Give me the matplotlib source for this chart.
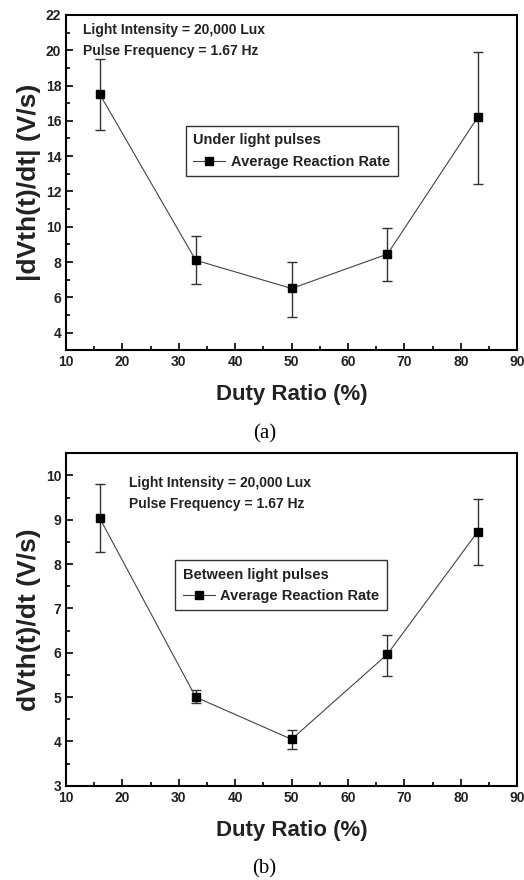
import matplotlib.pyplot as plt
from matplotlib.ticker import MultipleLocator

plt.rcParams['font.family'] = 'Liberation Sans'
plt.rcParams['font.weight'] = 'bold'
plt.rcParams['axes.labelweight'] = 'bold'

duty = [16, 33, 50, 67, 83]

# (a) under light pulses
rate_a = [17.5, 8.1, 6.5, 8.45, 16.2]
err_a_low = [2.0, 1.35, 1.6, 1.5, 3.8]
err_a_high = [2.0, 1.35, 1.5, 1.45, 3.7]

# (b) between light pulses
rate_b = [9.03, 5.0, 4.05, 5.97, 8.73]
err_b_low = [0.76, 0.13, 0.22, 0.49, 0.76]
err_b_high = [0.77, 0.15, 0.22, 0.43, 0.74]

TXT = '#222222'

fig = plt.figure(figsize=(5.24, 8.8), dpi=100)
ax1 = fig.add_axes([0.126, 0.602, 0.861, 0.381])
ax2 = fig.add_axes([0.126, 0.107, 0.861, 0.378])


def panel(ax, y, lo, hi, ylim, major, minor, ylabel, legend_title, anno_xy, leg_anchor, tag):
    ax.errorbar(duty, y, yerr=[lo, hi], fmt='none', ecolor='#333333',
                elinewidth=1.0, capsize=3.5, capthick=1.0, zorder=2)
    ax.plot(duty, y, color='#444444', lw=0.8, marker='s', ms=6,
            mfc='black', mec='black', label='Average Reaction Rate', zorder=3)
    ax.set_xlim(10, 90)
    ax.set_ylim(*ylim)
    ax.xaxis.set_major_locator(MultipleLocator(10))
    ax.xaxis.set_minor_locator(MultipleLocator(5))
    ax.yaxis.set_major_locator(MultipleLocator(major))
    ax.yaxis.set_minor_locator(MultipleLocator(minor))
    ax.tick_params(which='both', direction='in', colors='black', labelcolor=TXT,
                   labelsize=10, width=1.2)
    ax.tick_params(which='major', length=5)
    ax.tick_params(which='minor', length=3)
    for lab in ax.get_xticklabels() + ax.get_yticklabels():
        lab.set_fontweight('bold')
    for s in ax.spines.values():
        s.set_linewidth(1.5)
    ax.set_xlabel('Duty Ratio (%)', fontsize=16, fontweight='bold', color=TXT, labelpad=11)
    ax.set_ylabel(ylabel, fontsize=19, fontweight='bold', color=TXT, labelpad=3)
    ax.text(anno_xy[0], anno_xy[1], 'Light Intensity = 20,000 Lux\nPulse Frequency = 1.67 Hz',
            transform=ax.transAxes, fontsize=10, fontweight='bold', color=TXT, va='top',
            linespacing=1.6)
    leg = ax.legend(title=legend_title, loc='upper left', bbox_to_anchor=leg_anchor,
                    prop={'weight': 'bold', 'size': 10.5},
                    title_fontproperties={'weight': 'bold', 'size': 10.5},
                    alignment='left', frameon=True, fancybox=False, handlelength=2.2,
                    borderpad=0.5, handletextpad=0.4, labelcolor=TXT)
    leg.get_frame().set_edgecolor('black')
    leg.get_frame().set_linewidth(1.0)
    leg.get_title().set_color(TXT)
    ax.text(0.5 - 0.06, -0.22, tag, transform=ax.transAxes, ha='center', va='top',
            fontsize=15, fontweight='normal', family='Liberation Serif', color='black')


panel(ax1, rate_a, err_a_low, err_a_high, (3, 22), 2, 1,
      '|dVth(t)/dt| (V/s)', 'Under light pulses', (0.037, 0.975), (0.25, 0.69), '(a)')
panel(ax2, rate_b, err_b_low, err_b_high, (3, 10.5), 1, 0.5,
      'dVth(t)/dt (V/s)', 'Between light pulses', (0.14, 0.93), (0.226, 0.7), '(b)')

fig.savefig('out.png', dpi=100)
